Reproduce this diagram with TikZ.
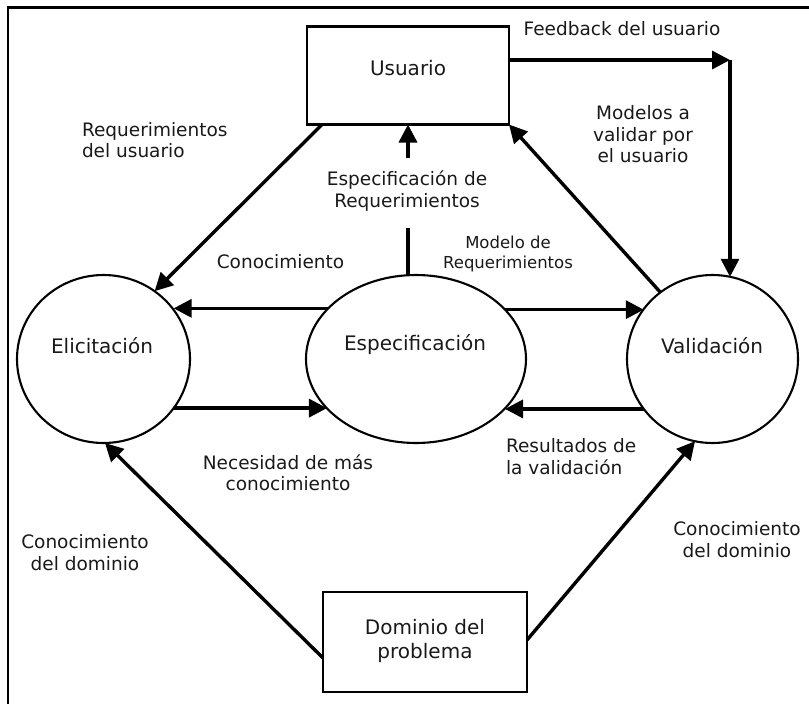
\documentclass[tikz,border=0pt]{standalone}
\usepackage{fontspec}
\setmainfont{DejaVu Sans}
\usetikzlibrary{arrows.meta,shapes.geometric}
\begin{document}
\begin{tikzpicture}[x=1pt,y=-1pt,
  every node/.style={inner sep=0pt,outer sep=0pt},
  nodetxt/.style={font=\fontsize{20}{24}\selectfont, text=black!90, align=center},
  lbl/.style={font=\fontsize{18.5}{21.5}\selectfont, text=black!90, align=center},
  lblleft/.style={font=\fontsize{18.5}{21.5}\selectfont, text=black!90, align=left, anchor=west},
  smalllbl/.style={font=\fontsize{16.5}{20}\selectfont, text=black!90, align=center},
  boxshape/.style={draw, line width=2.6pt, rectangle},
  circshape/.style={draw, line width=2.1pt, ellipse},
  arr/.style={line width=3.4pt, -{Triangle[length=18pt,width=18pt]}},
  plainline/.style={line width=3.4pt},
]
\useasboundingbox (0,0) rectangle (809,704);
% frame
\draw[line width=2.5pt] (8,720) -- (8,7.5) -- (830,7.5);

% shapes
\node[boxshape, minimum width=202pt, minimum height=98pt] (usr) at (408,75.5) {};
\node[circshape, minimum width=173pt, minimum height=168pt] (eli) at (103.5,359) {};
\node[circshape, minimum width=220pt, minimum height=168pt] (esp) at (416,359) {};
\node[circshape, minimum width=171pt, minimum height=168pt] (val) at (712.5,359) {};
\node[boxshape, minimum width=204pt, minimum height=100pt] (dom) at (425,642) {};

% shape texts
\node[nodetxt] (usrT) at (408,68) {Usuario};
\node[nodetxt] (eliT) at (102,346) {Elicitación};
\node[nodetxt] (espT) at (415,345) {Especificación};
\node[nodetxt] (valT) at (712,346) {Validación};
\node[nodetxt] (domT) at (425,641) {Dominio del\\problema};

% labels
\node[lbl] (fbL) at (622,29) {Feedback del usuario};
\node[lbl] (modL) at (643,134.5) {Modelos a\\validar por\\el usuario};
\node[lblleft] (reqL) at (82,140) {Requerimientos\\del usuario};
\node[lbl] (espreqL) at (407,191) {Especificación de\\Requerimientos};
\node[lbl] (conL) at (280.5,262) {Conocimiento};
\node[smalllbl] (mreqL) at (508,254) {Modelo de\\Requerimientos};
\node[lbl] (necL) at (288,472.5) {Necesidad de más\\conocimiento};
\node[lblleft] (resL) at (506,456.5) {Resultados de\\la validación};
\node[lbl] (cdlL) at (85,552.5) {Conocimiento\\del dominio};
\node[lbl] (cdrL) at (737,539.5) {Conocimiento\\del dominio};

% helper coordinates
\coordinate (fbc) at (730,60);
\coordinate (sqTop) at (408,228);
\coordinate (sqTail) at (408,158);

% connectors
\draw[arr] ([yshift=15.5pt]usr.east) -- (fbc);
\draw[arr] (fbc) -- (fbc |- val.78);
\draw[arr] ([xshift=15pt]usr.south west) -- (eli.53.5);
\draw[plainline] (esp.north -| usr.south) -- (sqTop);
\draw[arr] (sqTail) -- (usr.south);
\draw[arr] (val.128.5) -- (usr.south east);
\draw[arr] (esp.150.5) -- (eli.35.7 |- esp.150.5);
\draw[arr] (esp.29.5) -- (val.144 |- esp.29.5);
\draw[arr] (eli.-35.7) -- (esp.209.5 |- eli.-35.7);
\draw[arr] (val.216) -- (esp.-29.5 |- val.216);
\draw[arr] ([yshift=-16pt]dom.west) -- (eli.-89);
\draw[arr] ([yshift=2pt]dom.east) -- (val.258);
\end{tikzpicture}
\end{document}
